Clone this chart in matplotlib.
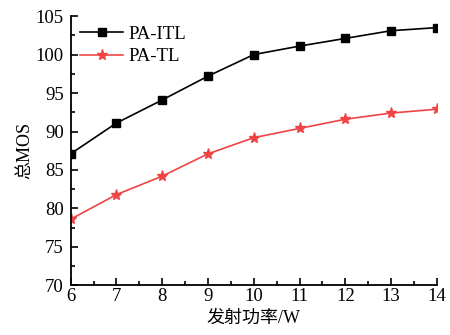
import matplotlib
matplotlib.use("Agg")
import matplotlib.pyplot as plt
from matplotlib.ticker import MultipleLocator

plt.rcParams['font.family'] = ['Liberation Serif', 'Noto Sans CJK SC']
plt.rcParams['axes.unicode_minus'] = False

power = [6, 7, 8, 9, 10, 11, 12, 13, 14]
pa_itl = [87.1, 91.1, 94.1, 97.2, 100.0, 101.1, 102.1, 103.1, 103.5]
pa_tl = [78.6, 81.8, 84.2, 87.1, 89.2, 90.4, 91.6, 92.4, 92.9]

fig = plt.figure(figsize=(4.5, 3.35), dpi=100)
ax = fig.add_axes([0.157, 0.148, 0.814, 0.804])

ax.plot(power, pa_itl, color='black', marker='s', markersize=5.5, linewidth=1.2, label='PA-ITL')
ax.plot(power, pa_tl, color='#f04444', marker='*', markersize=8, linewidth=1.2, label='PA-TL')

ax.set_xlim(6, 14)
ax.set_ylim(70, 105)
ax.xaxis.set_major_locator(MultipleLocator(1))
ax.xaxis.set_minor_locator(MultipleLocator(0.5))
ax.yaxis.set_major_locator(MultipleLocator(5))
ax.yaxis.set_minor_locator(MultipleLocator(2.5))
ax.tick_params(which='both', direction='in', labelsize=13.5, width=1.2)
ax.tick_params(which='major', length=5)
ax.tick_params(which='minor', length=3)
ax.tick_params(axis='x', pad=1.5)
ax.tick_params(axis='y', pad=5)

ax.spines['top'].set_visible(False)
ax.spines['right'].set_visible(False)
ax.spines['left'].set_linewidth(1.3)
ax.spines['bottom'].set_linewidth(1.3)

ax.set_xlabel('发射功率/W', fontsize=13, labelpad=4)
ax.set_ylabel('总MOS', fontsize=13, labelpad=2)

ax.legend(loc='upper left', frameon=False, fontsize=13.5, handlelength=2.3,
          handletextpad=0.3, borderaxespad=0.0, borderpad=0.5, labelspacing=0.3)

fig.savefig('out.png', dpi=100)
